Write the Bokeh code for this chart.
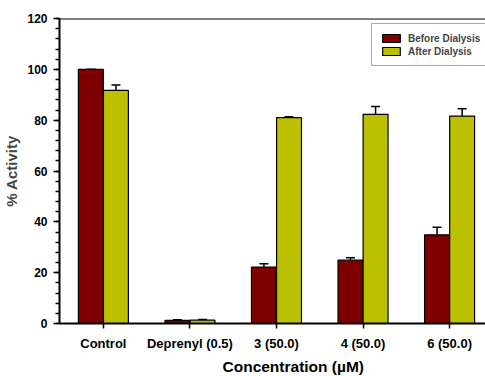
from bokeh.plotting import figure
from bokeh.models import (ColumnDataSource, Whisker, TeeHead, Legend, LegendItem,
                          SingleIntervalTicker, FixedTicker, Span, Title)
from bokeh.embed import file_html
from bokeh.resources import INLINE

categories = ["Control", "Deprenyl (0.5)", "3 (50.0)", "4 (50.0)", "6 (50.0)"]
before = [100.0, 1.2, 22.2, 24.9, 34.9]
before_err = [0.0, 0.3, 1.3, 1.0, 3.0]
after = [91.7, 1.3, 81.0, 82.3, 81.6]
after_err = [2.1, 0.3, 0.3, 3.1, 2.9]
series_names = ["Before Dialysis", "After Dialysis"]
colors = ["#7E0000", "#BDC000"]

FONT = "Liberation Sans"
idx = list(range(len(categories)))
off = 0.145
bw = 0.288

src_b = ColumnDataSource(dict(x=[i - off for i in idx], top=before,
                              upper=[v + e for v, e in zip(before, before_err)]))
src_a = ColumnDataSource(dict(x=[i + off for i in idx], top=after,
                              upper=[v + e for v, e in zip(after, after_err)]))

p = figure(width=485, height=376, x_range=(-0.507, 4.415), y_range=(0, 120),
           output_backend="svg", toolbar_location=None,
           min_border_left=58, min_border_right=0, min_border_top=18, min_border_bottom=53)
p.outline_line_color = None
p.grid.visible = False
p.background_fill_color = "white"

rb = p.vbar(x="x", top="top", width=bw, source=src_b, fill_color=colors[0],
            line_color="black", line_width=1.2)
ra = p.vbar(x="x", top="top", width=bw, source=src_a, fill_color=colors[1],
            line_color="black", line_width=1.2)

for src in (src_b, src_a):
    w = Whisker(base="x", lower="top", upper="upper", source=src,
                line_color="black", line_width=1.5,
                upper_head=TeeHead(size=9, line_color="black", line_width=1.5),
                lower_head=None)
    p.add_layout(w)

p.add_layout(Span(location=120, dimension="width", line_color="black", line_width=2))

# x axis
p.xaxis.ticker = FixedTicker(ticks=idx)
p.xaxis.major_label_overrides = {i: c for i, c in enumerate(categories)}
p.xaxis.minor_tick_line_color = None
p.xaxis.major_tick_in = 0
p.xaxis.major_tick_out = 5
p.xaxis.major_label_standoff = 7
p.xaxis.major_label_text_font = FONT
p.xaxis.major_label_text_font_style = "bold"
p.xaxis.major_label_text_font_size = "13px"
p.xaxis.major_label_text_color = "black"
p.xaxis.axis_line_width = 2

# y axis
p.yaxis.ticker = SingleIntervalTicker(interval=20, num_minor_ticks=5)
p.yaxis.major_tick_in = 0
p.yaxis.major_tick_out = 6
p.yaxis.minor_tick_in = 0
p.yaxis.minor_tick_out = 4
p.yaxis.major_label_standoff = 6
p.yaxis.major_label_text_font = FONT
p.yaxis.major_label_text_font_style = "bold"
p.yaxis.major_label_text_font_size = "12px"
p.yaxis.major_label_text_color = "black"
p.yaxis.axis_line_width = 2
p.yaxis.axis_label = "% Activity"
p.yaxis.axis_label_text_font = FONT
p.yaxis.axis_label_text_font_style = "bold"
p.yaxis.axis_label_text_font_size = "15px"
p.yaxis.axis_label_standoff = 4
p.axis.major_tick_line_width = 1.5
p.axis.minor_tick_line_width = 1.5

xt = Title(text="Concentration (\u00b5M)", align="left", offset=163,
           text_font=FONT, text_font_style="bold", text_font_size="15.5px",
           text_color="black", standoff=4)
p.add_layout(xt, "below")

legend = Legend(items=[LegendItem(label=series_names[0], renderers=[rb]),
                       LegendItem(label=series_names[1], renderers=[ra])],
                location=(312, 257), glyph_width=22, glyph_height=10,
                label_height=12, label_standoff=6, spacing=1, padding=8, margin=0,
                label_text_font=FONT, label_text_font_style="bold",
                label_text_font_size="10px", border_line_color="#555555",
                border_line_width=1)
p.add_layout(legend)

open("out.html", "w").write(file_html(p, INLINE))
